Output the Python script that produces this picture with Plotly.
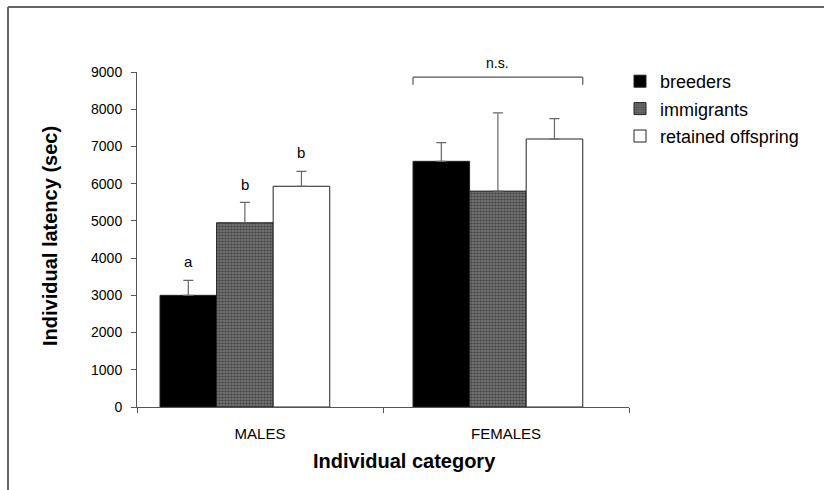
import plotly.graph_objects as go

categories = ["MALES", "FEMALES"]
series_names = ["breeders", "immigrants", "retained offspring"]
breeders = [3000, 6600]
immigrants = [4950, 5800]
retained = [5930, 7200]
breeders_err = [400, 500]
immigrants_err = [550, 2100]
retained_err = [400, 550]
letters = ["a", "b", "b"]
letter_y = [3900, 5980, 6850]
ns_label = "n.s."
y_ticks = [0, 1000, 2000, 3000, 4000, 5000, 6000, 7000, 8000, 9000]

# layout geometry (pixels)
W, H = 824, 490
L, R, T, B = 137, W - 629, 72, H - 407
pw, ph = W - L - R, H - T - B

def px_x(p):
    return (p - L) / pw

def px_y(p):
    return (H - B - p) / ph

bw = 0.23
base_off = [-0.4065, -0.378]

fills = [
    dict(color="black", pattern=None),
    dict(color="white", pattern=dict(shape=".", fgcolor="#111", bgcolor="#7e7e7e", size=3, solidity=0.55)),
    dict(color="white", pattern=None),
]
vals = [breeders, immigrants, retained]
errs = [breeders_err, immigrants_err, retained_err]

fig = go.Figure()
for i, (name, v, e, f) in enumerate(zip(series_names, vals, errs, fills)):
    marker = dict(color=f["color"], line=dict(color="#222", width=1))
    if f["pattern"]:
        marker["pattern"] = f["pattern"]
    fig.add_trace(go.Bar(
        x=categories, y=v, name=name, legendgroup=name,
        width=[bw] * len(categories),
        offset=[o + i * bw for o in base_off],
        marker=marker,
        error_y=dict(type="data", array=e, arrayminus=[0] * len(e), symmetric=False,
                     color="#666", thickness=1.2, width=5),
    ))

# significance letters above male bars
for i, (lt, ly) in enumerate(zip(letters, letter_y)):
    fig.add_annotation(x=categories[0], y=ly, text=lt, showarrow=False,
                       xshift=(base_off[0] + (i + 0.5) * bw) * pw / 2,
                       font=dict(family="Liberation Sans", size=15, color="black"))

# bracket over females
x0 = 1 + base_off[1]
x1 = 1 + base_off[1] + 3 * bw
fig.add_shape(type="line", xref="x", yref="y", x0=x0, x1=x1, y0=8860, y1=8860, line=dict(color="#555", width=1.2))
fig.add_shape(type="line", xref="x", yref="y", x0=x0, x1=x0, y0=8860, y1=8660, line=dict(color="#555", width=1.2))
fig.add_shape(type="line", xref="x", yref="y", x0=x1, x1=x1, y0=8860, y1=8660, line=dict(color="#555", width=1.2))
fig.add_annotation(xref="x", yref="paper", x=(x0 + x1) / 2, y=px_y(63), text=ns_label, showarrow=False,
                   xanchor="center", yanchor="middle",
                   font=dict(family="Liberation Sans", size=14, color="black"))

# outer frame (left and top)
fig.add_shape(type="line", xref="paper", yref="paper", x0=px_x(8), x1=px_x(8), y0=px_y(7), y1=px_y(H + 5),
              line=dict(color="#666", width=2))
fig.add_shape(type="line", xref="paper", yref="paper", x0=px_x(8), x1=px_x(W + 5), y0=px_y(7), y1=px_y(7),
              line=dict(color="#666", width=2))

# axis titles
fig.add_annotation(xref="paper", yref="paper", x=px_x(404), y=px_y(461), text="<b>Individual category</b>",
                   xanchor="center", yanchor="middle",
                   showarrow=False, font=dict(family="Liberation Sans", size=20, color="black"))
fig.add_annotation(xref="paper", yref="paper", x=px_x(50), y=px_y(236), text="<b>Individual latency (sec)</b>",
                   xanchor="center", yanchor="middle",
                   showarrow=False, textangle=-90, font=dict(family="Liberation Sans", size=20, color="black"))

fig.update_layout(
    width=W, height=H,
    margin=dict(l=L, r=R, t=T, b=B),
    paper_bgcolor="white", plot_bgcolor="white",
    barmode="overlay",
    showlegend=True,
    legend=dict(x=px_x(620), y=px_y(63), xanchor="left", yanchor="top",
                font=dict(family="Liberation Sans", size=18, color="black"),
                bgcolor="rgba(0,0,0,0)", itemwidth=30, tracegroupgap=1),
    font=dict(family="Liberation Sans", color="black"),
)
fig.update_xaxes(
    type="category", range=[-0.5, 1.5], tickson="boundaries",
    showline=True, linecolor="#555", linewidth=1, ticks="outside", ticklen=5, tickcolor="#555",
    showgrid=False, tickfont=dict(size=15, family="Liberation Sans", color="black"), zeroline=False,
    ticklabelstandoff=13,
)
fig.update_yaxes(
    range=[0, 9000], tickvals=y_ticks, showline=True, linecolor="#555", linewidth=1,
    ticks="outside", ticklen=5, tickcolor="#555", showgrid=False, zeroline=False,
    tickfont=dict(size=14, family="Liberation Sans", color="black"),
    ticklabelstandoff=6,
)

fig.write_html("out.html")
